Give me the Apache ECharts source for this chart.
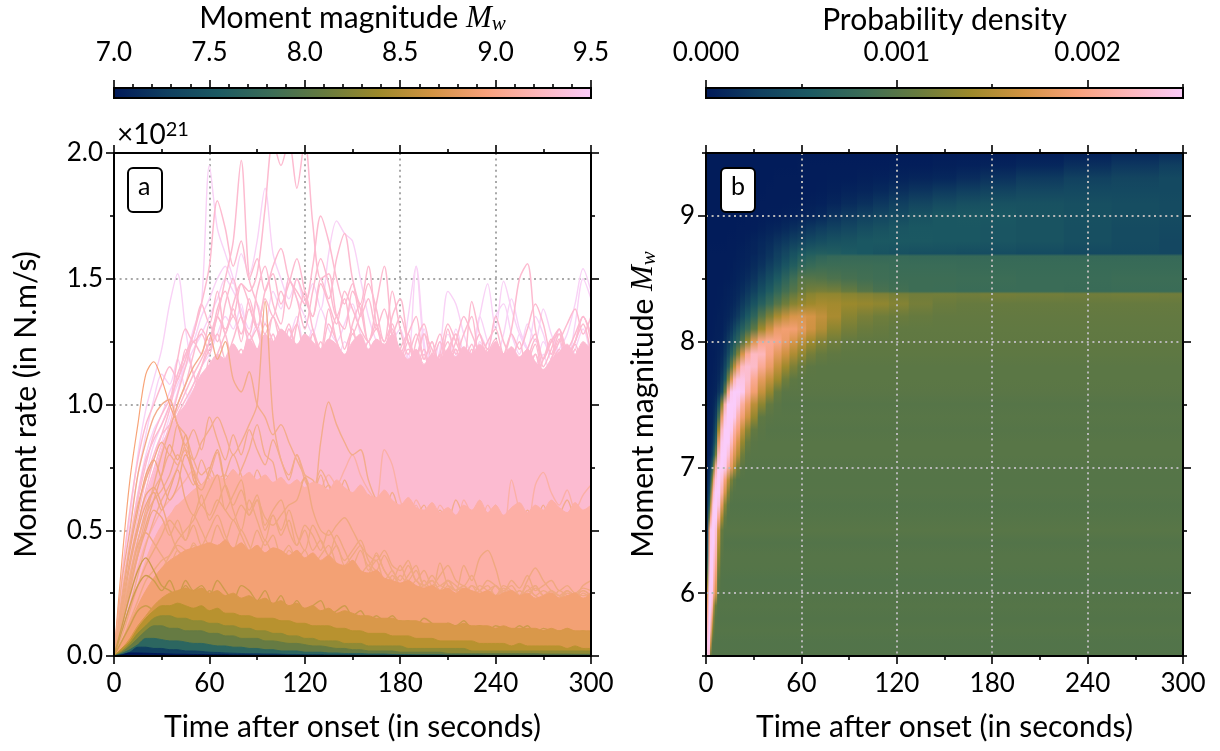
<!DOCTYPE html>
<html>
<head>
<meta charset="utf-8">
<style>
  html, body { margin: 0; padding: 0; background: #fff; }
  #main { width: 1220px; height: 751px; }
</style>
<script src="https://cdn.jsdelivr.net/npm/echarts@6/dist/echarts.min.js"></script>
</head>
<body>
<div id="main"></div>
<script>
// panel a: moment rate in units of 1e19 N.m/s, sampled every 5 s
const timeGrid = [0,5,10,15,20,25,30,35,40,45,50,55,60,65,70,75,80,85,90,95,100,105,110,115,120,125,130,135,140,145,150,155,160,165,170,175,180,185,190,195,200,205,210,215,220,225,230,235,240,245,250,255,260,265,270,275,280,285,290,295,300];

const lilacLines = [
  [0,30,55,80,98,110,122,140,152,130,112,105,115,100,110,98,108,95,104,100,96,110,102,95,105,98,92,104,100,96,108,102,95,100,106,94,98,105,100,92,97,104,98,93,100,106,95,99,104,96,92,100,107,98,94,103,99,92,105,97,100],
  [0,18,34,50,62,74,85,95,105,118,130,140,195,170,160,150,135,125,118,128,120,112,130,118,108,120,110,105,118,100,112,104,98,110,102,96,106,112,100,94,104,98,108,100,92,102,110,97,105,94,100,108,96,104,90,100,106,95,102,110,98],
  [0,22,45,65,80,90,96,105,112,120,125,135,142,150,155,148,160,152,165,186,160,150,142,150,140,148,138,160,173,168,165,150,135,125,118,128,115,135,155,125,110,118,128,120,112,118,135,148,130,149,138,128,122,135,128,118,122,128,140,154,145],
  [0,15,30,48,60,72,80,88,95,100,108,115,120,128,135,130,140,125,132,120,128,118,125,135,122,130,118,126,115,125,120,112,122,116,108,115,122,110,118,130,112,122,145,140,128,120,135,125,118,128,142,130,122,115,125,120,130,118,125,135,128],
  [0,28,52,72,88,102,112,108,118,105,100,112,104,96,110,100,92,105,98,108,95,102,110,96,104,92,100,108,94,102,98,110,96,104,92,100,106,95,102,90,98,108,96,103,92,100,110,94,101,97,105,92,99,108,94,102,96,106,93,100,104],
  [0,20,40,58,72,84,92,100,108,115,122,128,135,142,150,145,138,130,140,132,145,138,150,142,135,128,138,130,125,132,140,128,120,112,118,125,130,118,155,122,112,125,118,130,120,112,125,118,108,120,115,128,122,112,120,110,125,115,122,130,118],
  [0,16,32,48,60,70,78,85,90,96,100,105,110,118,112,120,115,108,118,112,105,115,108,120,112,105,118,110,102,115,108,120,125,110,118,105,112,120,110,102,115,108,122,115,105,118,128,122,135,140,128,120,132,125,138,128,120,118,132,150,142]
];
const pinkLines = [
  [0,20,38,55,70,80,88,92,98,105,112,118,125,135,150,165,197,150,140,128,135,125,132,120,128,118,125,115,122,110,118,125,112,120,108,115,122,110,118,105,112,120,108,115,105,112,118,108,114,104,110,118,106,112,102,110,116,104,112,106,110],
  [0,12,25,38,50,60,70,78,88,95,105,115,125,135,130,140,148,145,152,178,205,195,205,186,205,172,150,152,135,130,145,138,125,132,120,128,115,122,118,112,120,110,116,122,112,118,108,115,120,110,116,108,114,120,110,104,112,118,108,114,110],
  [0,24,44,62,76,88,96,102,110,118,128,140,155,181,170,155,165,150,158,145,155,162,150,145,140,155,175,165,150,140,148,135,142,130,138,128,135,125,120,128,118,125,115,122,112,120,128,115,122,110,118,125,112,120,108,116,122,110,118,112,116],
  [0,14,28,42,54,64,72,80,86,92,98,105,112,120,128,135,128,138,130,142,135,145,138,150,142,135,148,140,132,145,138,130,125,140,155,128,118,125,112,120,110,118,125,112,120,108,116,122,112,118,108,115,122,110,118,126,114,120,108,116,122],
  [0,18,34,50,62,72,80,88,96,102,108,115,122,128,118,126,135,125,130,120,128,118,125,132,120,128,118,125,135,122,130,118,125,115,122,130,118,112,125,132,120,128,118,125,135,128,120,115,125,120,130,150,156,130,118,125,128,120,125,135,128],
  [0,10,22,34,46,56,64,72,78,85,92,98,105,110,118,124,118,128,122,132,125,118,130,122,115,128,120,132,125,118,128,122,116,125,118,110,122,128,115,122,112,120,132,125,118,141,128,122,135,125,118,112,122,128,118,125,130,122,128,135,125],
  [0,26,46,64,78,86,92,100,118,130,125,128,120,135,128,118,122,112,118,105,112,118,105,110,100,108,115,102,108,98,105,112,100,106,95,102,110,98,104,92,100,108,95,102,112,100,106,95,102,110,98,104,92,100,108,96,102,112,98,104,100],
  [0,32,58,78,92,100,108,115,110,122,112,105,118,108,115,102,110,98,105,112,100,108,95,102,110,98,105,92,100,108,95,102,112,96,104,92,100,108,95,102,92,100,110,96,102,90,98,106,94,100,108,95,102,90,98,106,94,100,108,96,102],
  [0,12,24,36,46,56,64,70,78,84,90,96,102,108,112,118,112,120,115,108,118,112,105,115,108,120,112,105,118,110,102,115,108,112,105,118,110,102,115,108,118,110,122,112,105,118,110,120,112,105,118,110,122,115,108,118,125,132,138,128,135],
  [0,20,36,52,66,78,88,98,112,120,128,140,132,145,128,138,125,142,130,120,135,128,118,132,145,130,122,138,125,118,132,140,125,130,120,135,142,125,118,128,122,115,130,120,128,135,118,125,130,120,128,122,130,140,132,120,128,118,125,132,120],
  [0,16,30,44,58,70,82,92,104,115,125,120,132,125,140,150,135,128,145,155,140,132,150,142,130,145,158,148,135,142,128,136,148,138,125,132,120,128,135,118,125,115,122,128,118,124,112,120,126,116,122,112,118,126,115,122,130,118,124,116,120],
  [0,18,34,50,64,74,84,90,100,108,120,130,125,138,145,135,148,140,130,145,152,140,148,158,145,135,150,142,158,168,150,140,155,132,125,145,130,120,128,118,125,112,120,128,115,122,110,118,124,112,120,108,116,124,112,118,126,116,122,112,118]
];
const pinkTop = [0,13,28,42,58,72,82,90,96,100,106,112,116,120,118,124,120,126,122,128,125,130,127,124,128,125,122,126,124,120,125,128,122,126,124,128,122,118,122,116,120,118,122,119,123,120,124,121,125,120,123,119,122,117,114,118,121,124,120,125,122];

const salmonLines = [
  [0,12,25,35,45,52,58,62,66,70,74,68,72,66,70,64,68,62,66,60,64,58,62,70,64,60,66,72,68,74,80,72,66,62,82,76,62,55,60,52,56,50,54,48,52,46,50,48,44,50,46,42,48,44,50,46,42,48,44,46,44],
  [0,8,16,26,36,44,50,55,60,58,64,60,66,62,58,64,60,66,60,56,62,58,64,60,56,62,58,60,55,60,58,54,60,55,58,52,60,54,62,56,52,60,55,50,62,56,52,60,54,50,70,58,52,68,73,65,60,66,58,64,68]
];
const earlyOrangeLine = [0,38,70,92,112,117,110,100,92,82,72,65,58,55,52,50,48,45,44,42,40,42,38,36,38,35,33,35,32,30,32,30,28,30,28,26,28,25,27,25,24,26,24,25,23,24,22,24,23,22,24,22,23,21,22,24,22,21,23,22,21];
// these stay above the salmon mass only
const highOrangeLines = [
  [0,14,28,42,55,68,80,90,100,108,115,120,128,118,125,110,105,113,100,95,88,92,85,78,72,70,65,68,60,58,62,55,58,52,50,54,48,52,46,50,45,48,44,50,46,42,48,44,40,46,42,48,44,40,45,42,48,44,40,46,42],
  [0,10,20,32,44,54,62,68,75,82,78,85,90,95,88,80,85,92,100,141,95,78,72,80,70,65,72,60,58,64,55,60,52,58,50,54,48,52,45,50,46,42,48,44,40,45,42,46,40,44,48,42,38,44,40,46,42,38,44,40,44],
  [0,5,12,20,28,36,42,48,55,60,65,68,62,70,72,68,74,82,92,80,77,62,58,65,71,60,85,101,92,85,80,82,70,62,58,65,56,52,58,50,54,48,52,46,50,44,48,52,46,42,48,44,50,46,42,48,44,50,46,42,46],
  [0,18,32,46,58,66,72,80,76,84,74,68,72,81,70,74,66,70,62,68,60,64,58,62,56,60,54,58,52,56,50,60,54,58,52,56,50,62,56,60,52,58,54,62,55,50,58,54,60,52,56,50,58,54,60,52,56,62,54,50,56],
  [0,30,50,72,85,95,100,102,92,88,78,72,75,68,62,66,60,64,58,62,56,60,64,56,60,54,58,62,54,58,52,56,60,52,56,50,54,58,50,54,48,52,56,48,52,46,50,54,46,50,48,52,46,50,44,48,52,46,50,48,46],
  [0,24,44,60,70,78,85,80,92,84,90,82,95,86,78,88,80,90,82,76,86,78,70,80,72,66,74,68,60,70,62,56,64,58,52,60,54,50,56,48,54,50,46,52,48,44,50,46,52,48,44,50,46,52,48,44,50,46,52,48,50],
  [0,16,32,46,56,62,66,72,80,74,68,78,70,64,72,80,72,64,74,66,58,68,60,54,64,58,52,62,56,50,58,52,46,54,48,44,52,46,50,44,48,42,50,44,40,48,42,46,40,44,48,42,46,40,44,38,44,40,46,42,44]
];
const salmonTop = [0,8,18,28,38,46,52,56,60,63,66,68,70,72,70,74,71,73,70,72,69,71,68,70,67,69,68,66,70,67,65,68,64,63,66,62,60,63,59,58,61,57,59,56,60,58,62,57,60,56,59,61,57,60,58,62,59,57,61,58,60];
const orangeLines = [
  [0,22,42,58,72,78,70,62,68,80,74,60,66,72,58,64,70,56,62,50,56,48,54,44,50,42,46,40,44,36,40,44,34,38,30,34,28,32,36,28,30,26,30,26,28,24,26,28,24,26,24,26,24,28,24,26,22,25,24,22,24],
  [0,12,26,40,52,62,72,84,78,88,70,66,74,82,68,60,66,58,64,52,58,62,50,44,52,48,42,50,44,38,42,46,38,34,40,34,30,36,30,28,32,28,30,26,28,24,28,26,24,28,26,24,26,28,24,25,23,26,24,26,24],
  [0,18,36,50,60,65,58,66,74,62,56,64,54,60,68,58,50,62,54,46,56,50,58,48,42,52,46,40,48,42,36,42,36,40,34,30,36,30,34,28,30,26,30,28,25,28,26,24,28,25,23,26,24,27,24,22,26,24,22,25,23],
  [0,20,38,52,64,67,60,50,42,40,44,40,36,38,34,36,38,32,34,30,28,32,26,28,24,26,28,24,26,22,24,20,22,24,20,22,18,20,22,18,20,17,19,16,18,20,16,18,15,17,19,15,17,14,16,18,14,16,15,14,15],
  [0,6,14,22,30,34,38,40,44,42,38,40,36,38,42,40,36,38,34,36,38,34,36,32,34,36,30,32,34,30,28,30,32,41,34,30,28,30,26,28,26,37,28,26,36,30,39,42,35,26,28,24,30,35,30,26,24,26,24,28,30],
  [0,15,30,44,49,45,40,36,42,38,45,40,36,42,38,34,40,36,38,32,36,30,34,32,28,32,30,26,30,28,24,28,26,30,24,26,22,26,24,20,24,22,26,20,22,24,20,22,18,22,20,24,18,20,22,18,20,22,18,20,18],
  [0,4,10,16,22,28,34,40,46,50,54,60,56,62,58,54,60,56,62,55,52,56,60,62,71,58,50,48,52,55,50,44,40,38,42,36,34,38,30,34,28,32,36,30,28,32,26,30,28,25,30,27,32,26,28,30,26,28,25,27,26],
  [0,14,28,40,50,58,55,48,54,46,52,44,50,56,48,42,50,44,38,46,40,36,42,38,34,40,34,30,36,32,28,32,36,30,26,32,28,26,30,26,28,24,28,26,24,28,24,26,28,24,26,24,28,24,26,24,22,26,24,26,24],
  [0,8,18,28,36,42,48,54,50,46,56,50,44,52,46,54,48,42,50,44,48,40,44,38,42,36,40,44,36,32,38,34,30,34,30,28,32,28,26,30,26,28,26,24,28,25,23,26,24,27,25,23,26,24,22,26,24,22,25,24,25]
];
const orangeTop = [0,6,13,20,26,31,35,38,40,42,43,44,45,44,46,43,45,42,44,41,43,42,40,42,39,41,38,40,37,36,38,34,33,34,31,30,29,30,28,27,28,26,27,25,27,26,25,26,24,25,26,24,25,23,24,25,23,24,25,23,25];
const goldTop = [0,3,7,12,16,20,23,25,26,27,26,27,25,26,24,25,23,24,22,23,21,22,20,21,19,20,18,19,17,18,17,16,16,15,15,15,14,14,14,13,13,13,13,12,13,12,12,12,11,12,11,11,11,11,10,11,10,11,10,10,10];
const goldLines = [
  [0,12,24,34,39,34,28,26,24,30,26,28,24,30,26,22,28,26,22,26,20,24,18,22,18,20,22,16,18,20,16,18,14,16,14,16,13,14,12,15,13,11,13,12,14,11,12,10,12,11,10,12,10,9,11,10,9,11,9,10,9],
  [0,6,12,18,20,18,16,17,15,14,16,15,13,18,14,12,11,12,10,11,9,10,9,8,9,8,7,8,7,6,7,6,7,5,6,5,6,5,4,5,6,4,5,4,5,4,5,6,4,5,4,8,5,4,5,4,3,4,3,4,3],
  [0,10,20,28,32,30,26,30,24,28,24,22,26,22,20,24,20,18,22,18,20,16,18,20,16,18,15,17,14,16,15,13,15,13,14,12,14,12,13,11,12,10,12,10,11,10,12,10,9,11,9,10,12,9,10,8,10,9,8,9,8]
];
const yellowTop = [0,3,6,11,15,18,20,20,21,20,19,20,18,19,17,17,16,16,15,15,15,14,14,13,13,12,12,12,11,11,10,10,9,9,9,8,8,8,7,7,7,6,6,6,6,6,5,5,5,5,4,5,4,4,4,4,4,3,4,3,3];
const oliveTop = [0,2,5,9,12,15,16,16,15,15,14,14,13,13,12,12,11,11,10,10,9,9,8,8,7,7,6,6,6,5,5,5,4,4,4,4,4,3,3,3,3,3,3,3,3,2,2,2,2,2,2,2,2,2,2,2,2,2,2,2,2];
const greenTop = [0,1.5,4,7,10,12,12,11,11,10,10,10,9,9,8,8,7,7,7,6,6,5.5,5,5,4.5,4,4,3.5,3,3,2.5,2.5,2,2,2,2,1.5,1.5,1.5,1.5,1.5,1.5,1,1,1,1,1,1,1,1,1,1,1,1,.8,.8,.8,.8,.7,.7,.7];
const tealTop = [0,1,2.5,4.5,7,7,6.5,6,6,5.5,5,5,4.5,4,4,3.5,3.5,3,3,2.5,2.5,2,2,2,1.5,1.5,1.5,1.2,1.2,1,1,1,.8,.8,.8,.6,.6,.6,.5,.5,.5,.5,.4,.4,.4,.4,.4,.3,.3,.3,.3,.3,.3,.3,.3,.3,.3,.3,.3,.3,.3];
const blueTop = [0,.6,1.5,3.5,3.5,3,3,2.5,2.5,2,2,1.8,1.5,1.4,1.2,1.1,1,.9,.9,.8,.8,.7,.6,.6,.5,.5,.5,.4,.4,.4,.4,.3,.3,.3,.3,.3,.2,.2,.2,.2,.2,.2,.2,.2,.2,.2,.2,.2,.2,.2,.2,.2,.2,.2,.2,.2,.2,.2,.2,.2,.2];
const navyTop = [0,.4,1.2,1.2,1.1,1,.9,.8,.7,.7,.6,.6,.5,.5,.5,.4,.4,.4,.3,.3,.3,.3,.2,.2,.2,.2,.2,.2,.2,.2,.1,.1,.1,.1,.1,.1,.1,.1,.1,.1,.1,.1,.1,.1,.1,.1,.1,.1,.1,.1,.1,.1,.1,.1,.1,.1,.1,.1,.1,.1,.1];

// panel b: density in units of 1e-5, one row per magnitude, one column per time
const densityTimes = [1,2,3,4,5,6,8,10,12,14,16,18,20,23,26,30,35,40,45,50,55,60,66,72,80,90,100,110,120,135,150,165,180,210,240,270,300];
const densityMw = [5.5,5.6,5.7,5.8,5.9,6,6.1,6.2,6.3,6.4,6.5,6.6,6.7,6.8,6.9,7,7.1,7.2,7.3,7.4,7.5,7.6,7.7,7.8,7.9,8,8.1,8.2,8.3,8.38,8.4,8.5,8.6,8.68,8.7,8.8,8.9,9,9.1,9.2,9.3,9.4,9.5];
const density = [
  [240,230,110,99,98,98,98,98,98,98,98,98,98,98,98,98,98,98,98,98,98,98,98,98,98,98,98,98,98,98,98,98,98,98,98,98,98],
  [240,250,170,100,98,97,97,97,97,97,97,97,97,97,97,97,97,97,97,97,97,97,97,97,97,97,97,97,97,97,97,97,97,97,97,97,97],
  [225,250,215,140,105,99,99,99,99,99,99,99,99,99,99,99,99,99,99,99,99,99,99,99,99,99,99,99,99,99,99,99,99,99,99,99,99],
  [210,250,235,180,120,100,98,98,98,98,98,98,98,98,98,98,98,98,98,98,98,98,98,98,98,98,98,98,98,98,98,98,98,98,98,98,98],
  [190,250,250,220,150,110,99,99,99,99,99,99,99,99,99,99,99,99,99,99,99,99,99,99,99,99,99,99,99,99,99,99,99,99,99,99,99],
  [170,250,250,245,200,170,100,98,98,98,98,98,98,98,98,98,98,98,98,98,98,98,98,98,98,98,98,98,98,98,98,98,98,98,98,98,98],
  [130,240,250,250,215,185,105,98,97,97,97,97,97,97,97,97,97,97,97,97,97,97,97,97,97,97,97,97,97,97,97,97,97,97,97,97,97],
  [90,225,250,250,230,200,120,99,99,99,99,99,99,99,99,99,99,99,99,99,99,99,99,99,99,99,99,99,99,99,99,99,99,99,99,99,99],
  [60,210,250,250,240,215,135,102,100,100,100,100,100,100,100,100,100,100,100,100,100,100,100,100,100,100,100,100,100,100,100,100,100,100,100,100,100],
  [45,200,245,250,250,225,150,105,98,98,98,98,98,98,98,98,98,98,98,98,98,98,98,98,98,98,98,98,98,98,98,98,98,98,98,98,98],
  [30,190,245,250,250,235,165,110,101,101,101,101,101,101,101,101,101,101,101,101,101,101,101,101,101,101,101,101,101,101,101,101,101,101,101,101,101],
  [22,110,200,245,250,250,205,145,108,99,99,99,99,99,99,99,99,99,99,99,99,99,99,99,99,99,99,99,99,99,99,99,99,99,99,99,99],
  [16,60,150,225,250,250,240,180,128,103,98,98,98,98,98,98,98,98,98,98,98,98,98,98,98,98,98,98,98,98,98,98,98,98,98,98,98],
  [12,35,100,185,235,250,250,215,170,125,103,100,100,100,100,100,100,100,100,100,100,100,100,100,100,100,100,100,100,100,100,100,100,100,100,100,100],
  [8,22,60,130,200,240,250,235,195,155,120,105,99,99,99,99,99,99,99,99,99,99,99,99,99,99,99,99,99,99,99,99,99,99,99,99,99],
  [5,15,30,70,130,210,250,250,245,210,180,150,115,102,100,100,100,100,100,100,100,100,100,100,100,100,100,100,100,100,100,100,100,100,100,100,100],
  [4,8,14,30,60,120,225,250,250,235,200,175,150,115,102,101,101,101,101,101,101,101,101,101,101,101,101,101,101,101,101,101,101,101,101,101,101],
  [4,6,10,18,35,70,185,245,250,250,225,195,170,135,110,102,101,101,101,101,101,101,101,101,101,101,101,101,101,101,101,101,101,101,101,101,101],
  [4,5,8,12,22,45,140,225,250,250,245,215,195,160,130,108,102,100,100,100,100,100,100,100,100,100,100,100,100,100,100,100,100,100,100,100,100],
  [3,5,7,9,15,28,90,185,240,250,250,245,215,190,165,135,105,102,101,101,101,101,101,101,101,101,101,101,101,101,101,101,101,101,101,101,101],
  [3,4,6,8,10,18,50,130,215,250,250,250,240,210,185,155,130,108,102,100,100,100,100,100,100,100,100,100,100,100,100,100,100,100,100,100,100],
  [3,4,5,6,7,9,20,40,110,200,245,250,250,245,215,190,160,135,110,102,102,102,102,102,102,102,102,102,102,102,102,102,102,102,102,102,102],
  [3,3,4,5,6,7,12,25,55,120,175,220,238,240,230,205,180,160,140,115,105,103,103,103,103,103,103,103,103,103,103,103,103,103,103,103,103],
  [3,3,4,4,5,6,9,16,35,65,110,155,190,225,232,228,205,185,160,140,122,110,104,103,103,103,103,103,103,103,103,103,103,103,103,103,103],
  [3,3,3,4,4,5,7,11,22,40,65,90,125,170,205,225,222,200,180,165,148,132,118,110,106,105,105,105,105,105,105,105,105,105,105,105,105],
  [3,3,4,4,5,5,6,8,15,25,38,58,72,100,135,175,200,205,200,185,170,155,140,125,115,108,106,106,106,106,106,106,106,106,106,106,106],
  [3,3,3,4,4,5,5,6,10,15,22,35,48,65,82,105,140,165,185,190,190,180,165,150,130,118,112,110,107,107,107,107,107,107,107,107,107],
  [3,3,3,3,4,4,5,5,7,9,13,18,25,38,55,72,100,122,145,160,170,172,168,158,145,128,120,115,112,110,108,108,108,108,108,108,108],
  [3,3,3,3,3,4,4,5,6,7,9,12,16,24,34,48,65,82,100,115,128,135,140,144,142,138,135,132,126,118,112,110,110,110,110,110,110],
  [3,3,3,3,3,3,4,4,5,6,7,9,12,17,24,34,48,64,80,95,108,120,128,132,132,128,125,122,118,116,117,116,118,117,116,117,116],
  [3,3,3,3,3,3,4,4,5,6,7,9,11,15,22,30,44,58,74,88,100,112,118,120,118,110,100,92,88,84,83,82,82,82,81,82,82],
  [3,3,3,3,3,3,3,3,4,4,5,6,8,10,14,20,30,42,56,70,85,100,100,98,94,90,87,85,84,84,84,83,83,82,82,83,83],
  [3,3,3,3,3,3,3,3,3,4,4,5,6,7,9,13,19,28,38,50,62,75,80,84,84,84,84,83,82,82,82,81,80,80,80,80,80],
  [3,3,3,3,3,3,3,3,3,3,4,4,5,6,7,10,14,20,28,38,48,60,66,72,76,78,78,78,79,78,78,78,78,78,78,78,78],
  [3,3,3,3,3,3,3,3,3,3,4,4,5,6,7,9,13,19,27,36,46,55,60,62,60,56,52,48,46,44,44,42,42,40,38,38,36],
  [2,2,2,2,2,2,2,2,2,3,3,3,4,4,5,7,10,13,18,23,28,32,38,42,46,48,52,54,54,54,52,52,50,48,44,40,36],
  [2,2,2,2,2,2,2,2,2,2,2,2,3,3,3,4,5,7,9,12,15,18,22,26,31,36,42,46,50,52,52,52,50,48,44,40,38],
  [2,2,2,2,2,2,2,2,2,2,2,2,2,2,3,3,3,4,4,5,6,7,9,12,18,24,30,35,40,47,52,54,52,48,45,42,40],
  [2,2,2,2,2,2,2,2,2,2,2,2,2,2,2,3,3,3,3,3,4,4,5,6,9,13,17,22,28,34,40,44,46,46,44,42,40],
  [2,2,2,2,2,2,2,2,2,2,2,2,2,2,2,2,2,3,3,3,3,3,3,4,5,7,9,12,16,20,24,28,32,36,38,38,38],
  [2,2,2,2,2,2,2,2,2,2,2,2,2,2,2,2,2,2,3,3,3,3,3,3,4,4,5,6,7,9,10,14,18,24,30,34,38],
  [2,2,2,2,2,2,2,2,2,2,2,2,2,2,2,2,2,2,2,2,2,3,3,3,3,3,3,3,4,4,5,6,7,10,16,22,28],
  [2,2,2,2,2,2,2,2,2,2,2,2,2,2,2,2,2,2,2,2,2,2,2,2,2,2,2,2,2,2,3,3,3,4,6,10,14]
];

// batlow colour map
const batlow = ['#011959','#103F60','#1C5A62','#3C6D56','#687B3E','#9D892B','#D29343','#F8A17B','#FDB7BC','#FACCFA'];
const densityColor = v => echarts.color.lerp(v / 250, batlow);

const FONT = 'Lato';
const LABEL_SIZE = 26;
const NAME_SIZE = 30;

const grids = [
  { left: 114, top: 153, width: 477, height: 503 },
  { left: 706, top: 153, width: 477, height: 503 },
  { left: 114, top: 88, width: 477, height: 10 },
  { left: 706, top: 88, width: 477, height: 10 }
];

// one axis per tick family, so major and minor ticks can have their own length
function makeAxis(gridIndex, position, min, max, values, length, extra) {
  return Object.assign({
    type: 'value', gridIndex, position, min, max, z: 100,
    axisLine: { show: true, onZero: false, lineStyle: { color: '#000', width: 2 } },
    axisTick: { show: true, length, customValues: values, lineStyle: { color: '#000', width: 1.6 } },
    axisLabel: { show: false },
    splitLine: { show: false }
  }, extra || {});
}
const labelled = (values, fmt, margin) => ({
  axisLabel: { show: true, customValues: values, formatter: fmt, margin, color: '#000', fontFamily: FONT, fontSize: LABEL_SIZE }
});
const richName = {
  i: { fontFamily: 'Liberation Serif', fontStyle: 'italic', fontSize: 31, color: '#000' },
  s: { fontFamily: 'Liberation Serif', fontStyle: 'italic', fontSize: 21, color: '#000', padding: [12, 0, 0, 0] }
};
const axisName = (name, gap) => ({
  name, nameLocation: 'middle', nameGap: gap,
  nameTextStyle: { color: '#000', fontFamily: FONT, fontSize: NAME_SIZE, rich: richName }
});
// dotted grid axis, ticks hidden but still placing the split lines
const dotAxis = (gridIndex, min, max, values, color, z) => ({
  type: 'value', gridIndex, min, max, z,
  axisLine: { show: false },
  axisTick: { show: false, customValues: values },
  axisLabel: { show: false },
  splitLine: { show: true, lineStyle: { color, width: 2, type: [2, 3.6] } }
});

const timeMajor = [0, 60, 120, 180, 240, 300];
const timeMinor = [30, 90, 150, 210, 270];
const timeDots = [60, 120, 180, 240];
const fmtInt = v => String(v);

const xAxes = [
  // panel a
  makeAxis(0, 'bottom', 0, 300, timeMajor, 8, Object.assign(labelled(timeMajor, fmtInt, 15), axisName('Time after onset (in seconds)', 56))),
  makeAxis(0, 'bottom', 0, 300, timeMinor, 4),
  makeAxis(0, 'top', 0, 300, timeMajor, 8),
  makeAxis(0, 'top', 0, 300, timeMinor, 4),
  // panel b
  makeAxis(1, 'bottom', 0, 300, timeMajor, 8, Object.assign(labelled(timeMajor, fmtInt, 15), axisName('Time after onset (in seconds)', 56))),
  makeAxis(1, 'bottom', 0, 300, timeMinor, 4),
  makeAxis(1, 'top', 0, 300, timeMajor, 8),
  makeAxis(1, 'top', 0, 300, timeMinor, 4),
  // colour bars
  makeAxis(2, 'top', 7, 9.5, [7, 7.5, 8, 8.5, 9, 9.5], 8, Object.assign(labelled([7, 7.5, 8, 8.5, 9, 9.5], v => v.toFixed(1), 22), axisName('Moment magnitude {i|M}{s|w}', 53))),
  makeAxis(2, 'top', 7, 9.5, [7.1, 7.2, 7.3, 7.4, 7.6, 7.7, 7.8, 7.9, 8.1, 8.2, 8.3, 8.4, 8.6, 8.7, 8.8, 8.9, 9.1, 9.2, 9.3, 9.4], 4),
  makeAxis(3, 'top', 0, 0.0025, [0, 0.001, 0.002], 8, Object.assign(labelled([0, 0.001, 0.002], v => v.toFixed(3), 22), axisName('Probability density', 53))),
  makeAxis(3, 'top', 0, 0.0025, [0.0005, 0.0015, 0.0025], 4),
  // dotted grid: under the lines in a, over the image in b
  dotAxis(0, 0, 300, timeDots, '#a8a8a8', 0),
  dotAxis(1, 0, 300, timeDots, '#b8b8b8', 90)
];
const rateMajor = [0, 50, 100, 150, 200];
const rateMinor = [25, 75, 125, 175];
const mwMajor = [6, 7, 8, 9];
const mwMinor = [5.5, 6.5, 7.5, 8.5, 9.5];
const yAxes = [
  makeAxis(0, 'left', 0, 200, rateMajor, 8, Object.assign(labelled(rateMajor, v => (v / 100).toFixed(1), 11), axisName('Moment rate (in N.m/s)', 73))),
  makeAxis(0, 'left', 0, 200, rateMinor, 4),
  makeAxis(0, 'right', 0, 200, rateMajor, 8),
  makeAxis(0, 'right', 0, 200, rateMinor, 4),
  makeAxis(1, 'left', 5.5, 9.5, mwMajor, 8, Object.assign(labelled(mwMajor, fmtInt, 11), axisName('Moment magnitude {i|M}{s|w}', 46))),
  makeAxis(1, 'left', 5.5, 9.5, mwMinor, 4),
  makeAxis(1, 'right', 5.5, 9.5, mwMajor, 8),
  makeAxis(1, 'right', 5.5, 9.5, mwMinor, 4),
  { type: 'value', gridIndex: 2, min: 0, max: 1, show: false },
  { type: 'value', gridIndex: 3, min: 0, max: 1, show: false },
  dotAxis(0, 0, 200, [50, 100, 150], '#a8a8a8', 0),
  dotAxis(1, 5.5, 9.5, mwMajor, '#b8b8b8', 90)
];

const lineSeries = (values, color, width, fill) => ({
  type: 'line', xAxisIndex: 0, yAxisIndex: 0, symbol: 'none', silent: true, smooth: 0.3,
  data: values.map((v, i) => [timeGrid[i], v]),
  lineStyle: { color, width },
  areaStyle: fill ? { color, opacity: 1 } : undefined
});

// every layer gets its own z, otherwise all fills sink below all lines
const seriesA = [
  ...lilacLines.map(d => lineSeries(d, '#F9D2F6', 1.4)),
  ...pinkLines.map(d => lineSeries(d, '#FDBBD0', 1.5)),
  lineSeries(pinkTop, '#FCBBD1', 1, true),
  lineSeries(earlyOrangeLine, '#F8A478', 1.2),
  ...salmonLines.map(d => lineSeries(d, '#FBB0A6', 1.4)),
  ...highOrangeLines.map(d => lineSeries(d, '#F3AC8C', 1.4)),
  lineSeries(salmonTop, '#FDAFA6', 1, true),
  ...orangeLines.map(d => lineSeries(d, '#F0A880', 1.4)),
  lineSeries(orangeTop, '#F3A174', 1, true),
  ...goldLines.map(d => lineSeries(d, '#CE9B4C', 1.4)),
  lineSeries(goldTop, '#D9984A', 1, true),
  lineSeries(yellowTop, '#B8922F', 1, true),
  lineSeries(oliveTop, '#8F8A35', 1, true),
  lineSeries(greenTop, '#667B43', 1, true),
  lineSeries(tealTop, '#2C6660', 1, true),
  lineSeries(blueTop, '#103F60', 1, true),
  lineSeries(navyTop, '#011959', 1, true)
].map((s, i) => Object.assign(s, { z: 2 + i }));

// density columns: each strip carries a vertical gradient through the read values of its column
const columnEdges = densityTimes.map((t, i) => [
  i === 0 ? 0 : (densityTimes[i - 1] + t) / 2,
  i === densityTimes.length - 1 ? 300 : (t + densityTimes[i + 1]) / 2
]);
const densitySeries = {
  type: 'custom', xAxisIndex: 4, yAxisIndex: 4, silent: true, clip: true, z: 1,
  data: columnEdges.map((e, i) => [e[0], e[1], i]),
  encode: { x: [0, 1] },
  renderItem: (params, api) => {
    const a = api.coord([api.value(0), 9.5]);
    const b = api.coord([api.value(1), 5.5]);
    const col = api.value(2);
    const stops = densityMw.map((m, r) => ({
      offset: (9.5 - m) / 4,
      color: densityColor(density[r][col])
    })).reverse();
    return {
      type: 'rect',
      shape: { x: a[0], y: a[1], width: b[0] - a[0] + 1, height: b[1] - a[1] },
      style: { fill: new echarts.graphic.LinearGradient(0, 0, 0, 1, stops) }
    };
  }
};
const colorBar = (xIndex, yIndex, lo, hi) => ({
  type: 'custom', xAxisIndex: xIndex, yAxisIndex: yIndex, silent: true, z: 110,
  data: [[lo, hi]],
  encode: { x: [0, 1] },
  renderItem: (params, api) => {
    const a = api.coord([api.value(0), 1]);
    const b = api.coord([api.value(1), 0]);
    return {
      type: 'rect',
      shape: { x: a[0], y: a[1], width: b[0] - a[0], height: b[1] - a[1] },
      style: {
        fill: new echarts.graphic.LinearGradient(0, 0, 1, 0,
          batlow.map((c, i) => ({ offset: i / (batlow.length - 1), color: c }))),
        stroke: '#000', lineWidth: 2
      }
    };
  }
});

const panelLabel = (x, text) => ([
  { type: 'rect', left: x, top: 167, z: 200, shape: { width: 34, height: 44, r: 5 },
    style: { fill: '#fff', stroke: '#000', lineWidth: 2 } },
  { type: 'text', left: x + 17 - 6, top: 174, z: 201,
    style: { text, font: '25px ' + FONT, fill: '#000' } }
]);

const chart = echarts.init(document.getElementById('main'));
chart.setOption({
  animation: false,
  backgroundColor: '#fff',
  grid: grids,
  xAxis: xAxes,
  yAxis: yAxes,
  series: [densitySeries, ...seriesA, colorBar(8, 8, 7, 9.5), colorBar(10, 9, 0, 0.0025)],
  graphic: [
    ...panelLabel(127, 'a'),
    ...panelLabel(720, 'b'),
    { type: 'text', left: 117, top: 120, z: 201,
      style: {
        text: '×10{s|21}', font: '28px ' + FONT, fill: '#000',
        rich: { s: { fontSize: 20, fontFamily: FONT, verticalAlign: 'top', padding: [0, 0, 10, 0] } }
      } }
  ]
});
</script>
</body>
</html>
